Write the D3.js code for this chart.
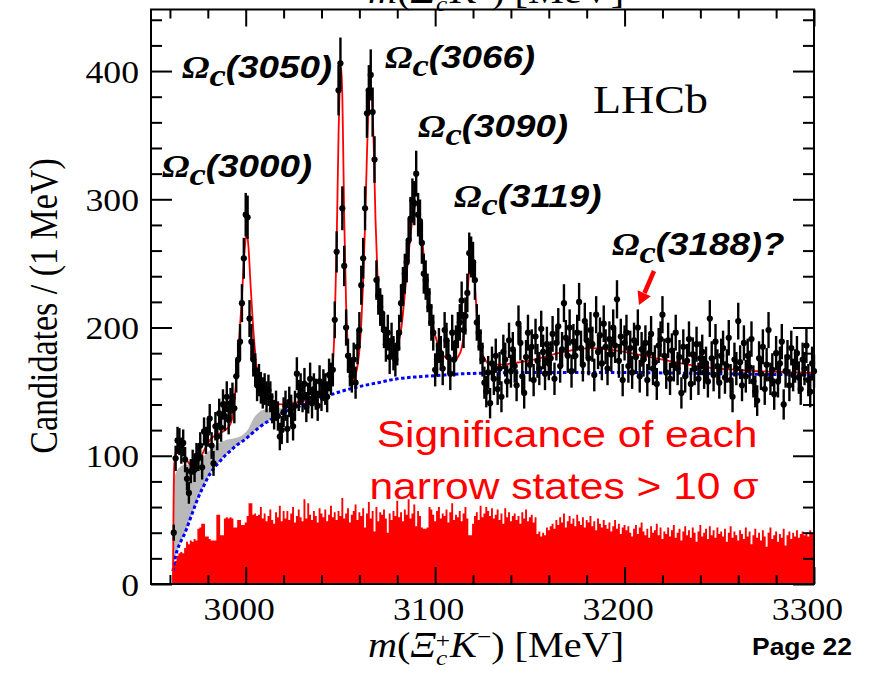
<!DOCTYPE html>
<html>
<head>
<meta charset="utf-8">
<script src="https://cdn.jsdelivr.net/npm/d3@7"></script>
<style>
  html, body { margin: 0; padding: 0; background: #ffffff; }
  svg { display: block; }
</style>
</head>
<body>
<svg id="chart" width="872" height="673"></svg>
<script>
// Ξc+ K− invariant-mass spectrum in 1 MeV bins
const binStart = 2962;   // centre of the first bin [MeV]
const binWidth = 1;      // MeV

// right-sign candidates per bin
const candidates = [
  40,98,112,111,104,110,97,82,71,88,
  95,89,100,98,108,91,119,112,118,129,
  108,94,123,115,133,122,140,131,146,128,
  141,145,137,162,175,189,219,254,288,286,
  207,189,175,167,155,159,153,149,152,146,
  151,146,137,132,139,131,115,120,134,139,
  121,142,136,123,139,164,147,152,146,156,
  138,145,160,141,152,148,139,158,147,155,
  152,146,163,160,167,206,259,385,406,293,
  248,200,178,167,162,175,157,185,198,233,
  254,293,367,385,397,368,331,237,225,216,
  211,198,187,196,177,190,180,175,184,196,
  219,232,242,251,268,285,299,297,320,288,
  283,266,242,237,227,216,204,196,167,175,
  186,180,168,198,190,177,164,196,175,188,
  198,204,221,198,209,227,258,255,251,237,
  204,196,185,175,157,150,165,141,172,160,
  178,152,168,146,181,175,158,190,166,183,
  170,155,203,188,162,149,177,196,171,185,
  159,193,174,168,199,181,164,187,172,176,
  195,160,188,201,170,183,219,192,178,200,
  166,189,178,196,220,184,171,205,190,176,
  198,187,163,210,181,194,172,203,185,168,
  191,179,200,186,222,174,193,159,188,196,
  170,184,165,190,177,200,162,183,175,188,
  159,180,195,168,173,156,186,191,210,178,
  165,190,160,182,171,196,168,177,149,185,
  162,174,191,156,179,168,187,160,176,181,
  165,172,158,207,176,163,189,170,157,178,
  184,161,170,192,159,146,175,168,205,173,
  155,188,162,178,169,191,158,150,143,176,
  164,185,152,171,198,160,167,148,180,158,
  172,189,140,166,177,155,184,163,170,180,
  161,152,175,168,186,159,150,172,166
];

// wrong-sign (Ξc+ K+) sample per bin
const wrongSign = [
  17,18,22,24,25,24,28,33,31,34,
  33,35,34,43,44,47,47,37,37,35,
  34,34,34,54,54,38,38,51,52,51,
  52,51,44,44,50,50,46,46,48,53,
  63,63,54,55,53,54,60,51,55,49,
  53,58,50,47,56,52,61,49,57,51,
  57,50,55,60,48,53,58,52,49,66,
  51,63,54,50,57,53,48,59,55,52,
  58,49,54,61,52,56,50,57,53,67,
  51,55,59,48,54,57,62,50,56,53,
  59,44,55,64,51,57,41,60,49,56,
  54,58,51,40,55,50,57,53,65,52,
  56,49,58,54,66,51,55,62,45,57,
  53,44,43,43,44,60,58,54,49,57,
  60,51,55,53,58,48,56,63,50,54,
  52,57,49,55,60,51,38,38,47,53,
  56,50,61,52,55,60,57,53,59,51,
  54,58,50,55,47,59,52,56,49,53,
  55,50,53,47,56,51,58,49,52,54,
  48,52,39,41,37,40,38,44,42,45,
  47,43,50,46,52,48,55,44,49,53,
  47,51,45,54,49,46,52,44,50,48,
  53,45,49,42,51,47,44,50,46,43,
  48,41,45,50,43,47,39,44,46,42,
  45,40,37,43,46,39,44,48,41,38,
  43,36,45,40,42,47,38,44,35,41,
  39,44,37,42,46,36,40,43,34,41,
  45,38,42,36,44,40,33,41,46,37,
  40,43,35,45,38,42,36,44,39,41,
  37,43,33,40,45,36,41,38,34,42,
  39,35,44,37,41,31,38,43,36,40,
  34,42,37,29,40,44,35,38,41,33,
  39,36,43,30,38,41,35,40,37,42,
  36,39,41,38,40,37,42,39,40
];

// total fit model
const fitMass = [
  2961.6,2961.9,2962.3,2963,2964.3,2966,2968,2970,2971.5,2973,2975,2977,2979,2981,2984,2987,2990,2992,
  2993.5,2995.2,2996.5,2997.8,2999.2,3000.5,3001.5,3002.5,3003.7,3004.9,3006,3008,3010,3013,3016,3019,
  3022,3025,3028,3031,3034,3037,3040,3043,3045,3046,3047,3048,3049,3050,3050.6,3051.3,3052,3053,3054,
  3055,3056,3057,3058,3059,3060,3061,3062,3063,3064,3065,3065.8,3066.6,3067.5,3068.5,3069.5,3070.5,
  3072,3074,3076,3078,3080,3082,3084,3086,3088,3090,3092,3094,3096,3098,3100,3102,3104,3106,3108,
  3110,3112,3114,3115.5,3117,3118.3,3119.2,3120.2,3121.2,3122.5,3124,3126,3128,3132,3138,3145,3155,
  3165,3175,3183,3190,3200,3210,3220,3230,3240,3250,3260,3270,3280,3290,3300
];
const fitValue = [
  0,60,93,102,108,106,100,94,92,93,96,101,107,112,116,118,121,125,
  134,164,190,219,255,274,262,235,205,182,165,153,148,144,141,140,
  140,141,142,143,145,147,150,155,162,172,205,265,350,398,402,355,285,218,182,
  166,160,159,163,170,182,203,235,280,335,376,390,381,345,285,243,222,
  205,194,188,185,187,198,226,258,284,296,284,256,229,208,194,185,179,176,174,
  174,177,184,198,225,250,258,250,228,200,184,176,172,171,171.5,173,176,
  180,183,184,183,181,178,175,172,169.5,168,167,166,165.5,165,164.5
];

// combinatorial background component
const bkgMass = [
  2961.6,2962,2963,2964,2966,2968,2970,2972,2974,2976,2978,2980,2983,2986,2989,2992,2995,2999,
  3003,3007,3013,3019,3025,3031,3040,3050,3060,3070,3080,3090,3100,3115,3130,3150,3175,3200,
  3225,3250,3275,3300
];
const bkgValue = [
  10,14,22,27,34,40,48,56,64,71,77,83,90,95,100,104,108,112,
  117,122,128,133,137,140,145,150,154,157,160,161.5,162.5,164,164.5,165,165,165,
  164.5,164,163.5,163
];

// partially reconstructed (feed-down) contribution, stacked on the background
const feedMass = [
  2961.6,2962,2963,2964,2966,2968,2970,2972,2974,2976,2978,2980,2983,2986,2989,2992,2995,2997,
  2999,3001,3003,3005,3007,3010,3013,3016,3019,3022,3025,3028,3031
];
const feedLow = [
  10,14,22,27,34,40,48,56,64,71,77,83,90,95,100,104,108,110,
  112,114,117,120,122,125,128,131,133,135,137,139,140
];
const feedHigh = [
  10,80,86,89,92,93,93,92,94,97,100,103,107,110,112,113,114,115,
  117,120,126,131,134,136,137,137,137,137,138,139,140
];

const xMajorTicks = [3000, 3100, 3200, 3300];
const xMinorTicks = [2960, 2980, 3020, 3040, 3060, 3080, 3120, 3140, 3160, 3180, 3220, 3240, 3260, 3280];
const yMajorTicks = [0, 100, 200, 300, 400];
const yMinorTicks = [20, 40, 60, 80, 120, 140, 160, 180, 220, 240, 260, 280, 320, 340, 360, 380, 420, 440];

const stateLabels = ["(3000)", "(3050)", "(3066)", "(3090)", "(3119)", "(3188)?"];

// ---------------------------------------------------------------------------
const svg = d3.select("#chart");
const plotLeft = 151, plotRight = 814, plotTop = 9.5, plotBottom = 584;
const x = d3.scaleLinear().domain([2950, 3300]).range([plotLeft, plotRight]);
const y = d3.scaleLinear().domain([0, 448]).range([plotBottom, plotTop]);
const sx = 1.15;  // glyph width factor used for all text
const serif = "'Liberation Serif', 'Times New Roman', serif";
const sans = "'Liberation Sans', Arial, sans-serif";

const bins = candidates.map((v, i) => ({ m: binStart + i * binWidth, v }));

// wrong-sign histogram as one stepped outline (left edge of each bin, closed at the last right edge)
const wsEdges = wrongSign.map((v, i) => ({ m: binStart + i * binWidth - binWidth / 2, v }));
wsEdges.push({ m: binStart + (wrongSign.length - 0.5) * binWidth, v: wrongSign[wrongSign.length - 1] });
svg.append("path")
  .datum(wsEdges)
  .attr("fill", "#ff0000")
  .attr("d", d3.area().x(d => x(d.m)).y0(y(0)).y1(d => y(d.v)).curve(d3.curveStepAfter));

// feed-down band
const feed = feedMass.map((m, i) => ({ m, lo: feedLow[i], hi: feedHigh[i] }));
svg.append("path")
  .datum(feed)
  .attr("fill", "#b9b9b9")
  .attr("d", d3.area().x(d => x(d.m)).y0(d => y(d.lo)).y1(d => y(d.hi)).curve(d3.curveMonotoneX));

// background curve
const bkg = bkgMass.map((m, i) => ({ m, v: bkgValue[i] }));
svg.append("path")
  .datum(bkg)
  .attr("fill", "none")
  .attr("stroke", "#0000ff")
  .attr("stroke-width", 3)
  .attr("stroke-dasharray", "3.5,2.5")
  .attr("d", d3.line().x(d => x(d.m)).y(d => y(d.v)).curve(d3.curveMonotoneX));

// total fit
const fit = fitMass.map((m, i) => ({ m, v: fitValue[i] }));
svg.append("path")
  .datum(fit)
  .attr("fill", "none")
  .attr("stroke", "#ff0000")
  .attr("stroke-width", 1.8)
  .attr("d", d3.line().x(d => x(d.m)).y(d => y(d.v)).curve(d3.curveMonotoneX));

// data points with Poisson error bars
const pts = svg.append("g");
pts.selectAll("line")
  .data(bins)
  .join("line")
  .attr("x1", d => x(d.m)).attr("x2", d => x(d.m))
  .attr("y1", d => y(d.v + Math.sqrt(d.v)))
  .attr("y2", d => y(Math.max(0, d.v - Math.sqrt(d.v))))
  .attr("stroke", "#000")
  .attr("stroke-width", 2.4);
pts.selectAll("circle")
  .data(bins)
  .join("circle")
  .attr("cx", d => x(d.m))
  .attr("cy", d => y(d.v))
  .attr("r", 3.1)
  .attr("fill", "#000");

// axes: ticks drawn inward on all four sides
function styleTicks(g) {
  g.select(".domain").remove();
  g.selectAll(".tick line").attr("stroke", "#000").attr("stroke-width", 2);
}
svg.append("g").attr("transform", `translate(0,${plotBottom})`)
  .call(d3.axisBottom(x).tickValues(xMajorTicks).tickSizeInner(-17).tickSizeOuter(0).tickFormat(""))
  .call(styleTicks);
svg.append("g").attr("transform", `translate(0,${plotBottom})`)
  .call(d3.axisBottom(x).tickValues(xMinorTicks).tickSizeInner(-9).tickSizeOuter(0).tickFormat(""))
  .call(styleTicks);
svg.append("g").attr("transform", `translate(0,${plotTop})`)
  .call(d3.axisTop(x).tickValues(xMajorTicks).tickSizeInner(-17).tickSizeOuter(0).tickFormat(""))
  .call(styleTicks);
svg.append("g").attr("transform", `translate(0,${plotTop})`)
  .call(d3.axisTop(x).tickValues(xMinorTicks).tickSizeInner(-9).tickSizeOuter(0).tickFormat(""))
  .call(styleTicks);
svg.append("g").attr("transform", `translate(${plotLeft},0)`)
  .call(d3.axisLeft(y).tickValues(yMajorTicks).tickSizeInner(-21).tickSizeOuter(0).tickFormat(""))
  .call(styleTicks);
svg.append("g").attr("transform", `translate(${plotLeft},0)`)
  .call(d3.axisLeft(y).tickValues(yMinorTicks).tickSizeInner(-11).tickSizeOuter(0).tickFormat(""))
  .call(styleTicks);
svg.append("g").attr("transform", `translate(${plotRight},0)`)
  .call(d3.axisRight(y).tickValues(yMajorTicks).tickSizeInner(-21).tickSizeOuter(0).tickFormat(""))
  .call(styleTicks);
svg.append("g").attr("transform", `translate(${plotRight},0)`)
  .call(d3.axisRight(y).tickValues(yMinorTicks).tickSizeInner(-11).tickSizeOuter(0).tickFormat(""))
  .call(styleTicks);

// tick labels
svg.append("g").attr("transform", `translate(${plotLeft},0)`)
  .call(d3.axisLeft(y).tickValues(yMajorTicks).tickSize(0).tickFormat(d3.format("d")))
  .call(g => g.select(".domain").remove())
  .call(g => g.selectAll("text")
    .attr("x", null).attr("dy", null)
    .attr("transform", `translate(-12,11) scale(${sx},1)`)
    .attr("fill", "#000")
    .style("font-family", serif).style("font-size", "31px"));
svg.append("g").attr("transform", `translate(0,${plotBottom})`)
  .call(d3.axisBottom(x).tickValues(xMajorTicks).tickSize(0).tickFormat(d3.format("d")))
  .call(g => g.select(".domain").remove())
  .call(g => g.selectAll("text")
    .attr("y", null).attr("dy", null)
    .attr("transform", `translate(-7,35.5) scale(${sx},1)`)
    .attr("fill", "#000")
    .style("font-family", serif).style("font-size", "31px"));

// frame
svg.append("rect")
  .attr("x", plotLeft).attr("y", plotTop)
  .attr("width", plotRight - plotLeft).attr("height", plotBottom - plotTop)
  .attr("fill", "none").attr("stroke", "#000").attr("stroke-width", 2);

// axis titles
svg.append("text")
  .attr("transform", `translate(57,306) rotate(-90) scale(1,${sx})`)
  .attr("text-anchor", "middle")
  .style("font-family", serif).style("font-size", "34px").attr("fill", "#000")
  .text("Candidates / (1 MeV)");

function massTitle(yBase) {
  const t = svg.append("text")
    .attr("transform", `translate(496,${yBase}) scale(${sx},1)`)
    .attr("text-anchor", "middle")
    .style("font-family", serif).style("font-size", "35px").attr("fill", "#000");
  t.append("tspan").style("font-style", "italic").text("m");
  t.append("tspan").text("(");
  t.append("tspan").style("font-style", "italic").text("Ξ");
  t.append("tspan").style("font-style", "italic").style("font-size", "22px").attr("dy", 8).text("c");
  t.append("tspan").style("font-size", "22px").attr("dx", -10).attr("dy", -17).text("+");
  t.append("tspan").style("font-style", "italic").attr("dy", 9).text("K");
  t.append("tspan").style("font-size", "22px").attr("dy", -13).text("−");
  t.append("tspan").attr("dy", 13).text(")");
  t.append("tspan").text(" [MeV]");
}
massTitle(657);
// the same title of the panel above, cut by the top edge
massTitle(2.5);

// experiment tag
svg.append("text")
  .attr("transform", `translate(593,113) scale(${sx},1)`)
  .style("font-family", serif).style("font-size", "40px").attr("fill", "#000")
  .text("LHCb");

// state annotations
const labelSpots = [[162, 177], [182, 78], [385, 68], [418, 137], [454, 207], [612, 255]];
stateLabels.forEach((s, i) => {
  const t = svg.append("text")
    .attr("transform", `translate(${labelSpots[i][0]},${labelSpots[i][1]}) scale(${sx},1)`)
    .style("font-size", "32px").style("font-weight", "bold").style("font-style", "italic")
    .attr("fill", "#000");
  t.append("tspan").style("font-family", serif).text("Ω");
  t.append("tspan").style("font-family", serif).attr("dy", 8).text("c");
  t.append("tspan").style("font-family", sans).attr("dy", -8).text(s);
});

// arrow to the 3188 region
svg.append("line")
  .attr("x1", 654).attr("y1", 271).attr("x2", 644.5).attr("y2", 293)
  .attr("stroke", "#ff0000").attr("stroke-width", 4.5);
svg.append("path")
  .attr("d", "M639,305 L650.8,296.2 L637.6,290.2 Z")
  .attr("fill", "#ff0000");

// significance note
const note = [["Significance of each", 567, 447], ["narrow states > 10 σ", 564, 499]];
note.forEach(([txt, nx, ny]) => {
  svg.append("text")
    .attr("transform", `translate(${nx},${ny}) scale(${sx},1)`)
    .attr("text-anchor", "middle")
    .style("font-family", sans).style("font-size", "37px").attr("fill", "#ff0000")
    .text(txt);
});

// slide page number
svg.append("text")
  .attr("transform", `translate(752,655) scale(${sx},1)`)
  .style("font-family", sans).style("font-size", "23px").style("font-weight", "bold").attr("fill", "#000")
  .text("Page 22");
</script>
</body>
</html>
